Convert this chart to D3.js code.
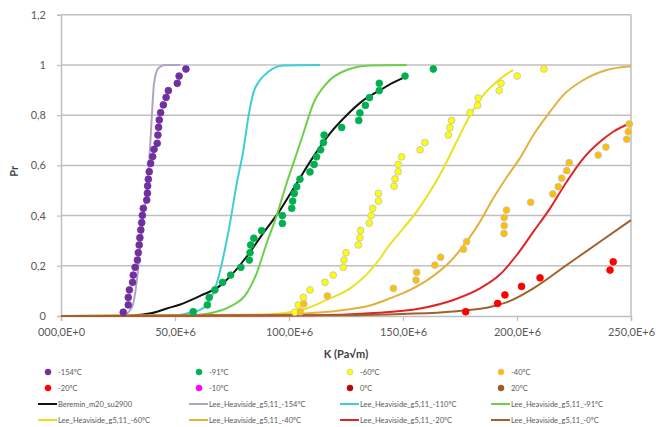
<!DOCTYPE html>
<html><head><meta charset="utf-8">
<script src="https://cdn.jsdelivr.net/npm/d3@7"></script>
<style>body{margin:0;background:#fff}svg{display:block}</style>
</head><body>
<script>
// ---- data (K in units of 1E+6 Pa√m, Pr) ----
const xTickValues = [0, 50, 100, 150, 200, 250];
const xTickLabels = ["000,0E+0", "50,0E+6", "100,0E+6", "150,0E+6", "200,0E+6", "250,0E+6"];
const yTickValues = [0, 0.2, 0.4, 0.6, 0.8, 1, 1.2];
const yTickLabels = ["0", "0,2", "0,4", "0,6", "0,8", "1", "1,2"];

const pts_m154 = [[27.3,0.015],[29.5,0.044],[29.5,0.074],[30.0,0.104],[31.4,0.134],[31.7,0.163],[32.5,0.194],[33.5,0.223],[33.9,0.252],[34.3,0.283],[34.6,0.312],[35.0,0.343],[35.4,0.372],[35.7,0.401],[36.1,0.429],[37.6,0.462],[37.9,0.489],[38.0,0.518],[38.3,0.545],[38.7,0.575],[39.3,0.608],[40.2,0.635],[40.8,0.664],[42.2,0.688],[42.5,0.721],[42.8,0.752],[43.1,0.781],[43.7,0.810],[44.9,0.841],[46.1,0.871],[47.1,0.898],[51.0,0.927],[51.8,0.956],[54.8,0.984]];
const pts_m91 = [[58.0,0.017],[64.2,0.044],[65.0,0.074],[67.5,0.104],[70.9,0.134],[74.4,0.163],[78.9,0.194],[82.6,0.223],[82.9,0.252],[83.2,0.283],[84.6,0.31],[88.0,0.34],[97.1,0.369],[97.1,0.40],[101.2,0.429],[101.6,0.458],[102.3,0.488],[103.4,0.515],[104.8,0.545],[109.2,0.574],[111.0,0.604],[112.1,0.634],[113.9,0.662],[115.1,0.691],[115.4,0.721],[123.1,0.751],[130.6,0.779],[131.1,0.809],[133.5,0.839],[135.3,0.87],[139.6,0.898],[139.6,0.927],[150.9,0.956],[163.3,0.984]];
const pts_m60 = [[102.6,0.015],[104.1,0.044],[106.3,0.074],[109.2,0.104],[115.8,0.134],[119.4,0.163],[123.8,0.194],[124.1,0.223],[125.0,0.252],[130.4,0.283],[131.1,0.312],[131.4,0.341],[135.2,0.37],[136.0,0.40],[136.7,0.429],[139.2,0.458],[139.2,0.488],[146.1,0.517],[146.5,0.546],[147.9,0.575],[147.9,0.604],[149.4,0.634],[157.5,0.662],[159.6,0.691],[169.9,0.721],[170.6,0.75],[171.3,0.779],[179.4,0.81],[182.7,0.839],[183.0,0.868],[192.2,0.898],[193.0,0.927],[200.1,0.956],[211.8,0.984]];
const pts_m40 = [[105.0,0.017],[106.5,0.048],[116.8,0.08],[145.8,0.11],[155.7,0.143],[156.0,0.174],[164.0,0.203],[166.5,0.234],[176.5,0.266],[177.9,0.296],[194.3,0.329],[194.4,0.36],[194.4,0.392],[195.4,0.422],[206.0,0.453],[215.7,0.486],[218.1,0.515],[219.6,0.549],[221.8,0.579],[222.9,0.611],[235.6,0.641],[239.0,0.673],[248.1,0.704],[248.8,0.734],[249.3,0.765]];
const pts_m20 = [[177.5,0.017],[191.5,0.05],[194.7,0.084],[202.0,0.118],[210.1,0.152],[240.8,0.183],[242.2,0.216]];
const pts_m10 = [];
const pts_0 = [];
const pts_20 = [];

const line_beremin = [[27,0],[35,0.005],[40,0.012],[46.4,0.03],[52,0.045],[61,0.08],[69.7,0.12],[74.1,0.157],[81.4,0.236],[88.7,0.33],[96.1,0.422],[103.4,0.529],[110.7,0.635],[118,0.728],[125.3,0.80],[132,0.855],[140,0.90],[145,0.927],[151,0.953]];
const line_lee_m154 = [[0,0],[26,0],[28,0.005],[30,0.02],[31.7,0.05],[32.8,0.11],[33.9,0.196],[35,0.3],[36.1,0.396],[37.6,0.5],[38.8,0.63],[39.8,0.79],[40.8,0.927],[42.7,0.987],[45.6,1],[52.2,1]];
const line_lee_m110 = [[0,0],[45,0],[52,0.004],[56,0.012],[61,0.024],[65.4,0.064],[68.3,0.13],[71.2,0.236],[74.1,0.369],[77.1,0.529],[80.0,0.661],[82.2,0.794],[84.3,0.887],[87.3,0.94],[90.9,0.973],[97.5,0.998],[113.6,1]];
const line_lee_m91 = [[0,0],[55,0],[60,0.004],[65.4,0.011],[74.1,0.037],[81.4,0.09],[85.8,0.17],[90.2,0.29],[94.6,0.40],[99.0,0.53],[101.9,0.608],[106.3,0.728],[110.7,0.847],[116.5,0.927],[125.3,0.98],[135.5,0.998],[151.6,1]];
const line_lee_m60 = [[0,0],[80,0.003],[97.5,0.011],[107.8,0.03],[116.5,0.064],[126.8,0.11],[134,0.165],[140,0.23],[143,0.27],[150.1,0.349],[156,0.416],[161.8,0.495],[167.7,0.588],[173.5,0.694],[179.4,0.80],[185.2,0.88],[191.1,0.933],[196.9,0.973],[198.4,0.98]];
const line_lee_m40 = [[0,0],[90,0.005],[110,0.012],[125,0.025],[135.5,0.042],[144.2,0.07],[153.1,0.104],[161.8,0.15],[170.6,0.216],[177.9,0.296],[183.8,0.376],[189.6,0.469],[196,0.56],[201,0.625],[207.2,0.721],[214.5,0.814],[220.3,0.88],[229.1,0.94],[239.3,0.98],[250,0.995]];
const line_lee_m20 = [[0,0],[110,0.003],[135.5,0.011],[157.5,0.03],[172.1,0.064],[183.8,0.11],[192.5,0.165],[199.9,0.243],[207.2,0.336],[214.5,0.429],[221.8,0.535],[229.1,0.628],[236.4,0.694],[242.2,0.734],[250,0.77]];
const line_lee_0 = [[0,0],[130,0.003],[150,0.008],[172.1,0.018],[190,0.04],[197,0.06],[207.2,0.11],[221.8,0.203],[236.4,0.296],[250,0.382]];

const pointSeries = [
  {name:"-154ºC", data:pts_m154, fill:"#7030A0", stroke:"#7030A0"},
  {name:"-91ºC", data:pts_m91, fill:"#00B050", stroke:"#00B050"},
  {name:"-60ºC", data:pts_m60, fill:"#FFFF00", stroke:"#BFBFBF"},
  {name:"-40ºC", data:pts_m40, fill:"#FFC000", stroke:"#BFBFBF"},
  {name:"-20ºC", data:pts_m20, fill:"#FF0000", stroke:"#FF0000"},
  {name:"-10ºC", data:pts_m10, fill:"#FF00FF", stroke:"#FF00FF"},
  {name:"0ºC", data:pts_0, fill:"#C00000", stroke:"#C00000"},
  {name:"20ºC", data:pts_20, fill:"#9C5A1E", stroke:"#9C5A1E"}
];
const lineSeries = [
  {name:"Beremin_m20_su2900", data:line_beremin, color:"#111111"},
  {name:"Lee_Heaviside_g5,11_-154ºC", data:line_lee_m154, color:"#B3A2C7"},
  {name:"Lee_Heaviside_g5,11_-110ºC", data:line_lee_m110, color:"#3ECFD6"},
  {name:"Lee_Heaviside_g5,11_-91ºC", data:line_lee_m91, color:"#6CCF48"},
  {name:"Lee_Heaviside_g5,11_-60ºC", data:line_lee_m60, color:"#E8E220"},
  {name:"Lee_Heaviside_g5,11_-40ºC", data:line_lee_m40, color:"#E2B23E"},
  {name:"Lee_Heaviside_g5,11_-20ºC", data:line_lee_m20, color:"#E02424"},
  {name:"Lee_Heaviside_g5,11_-0ºC", data:line_lee_0, color:"#A0612C"}
];

// ---- drawing ----
const W = 659, H = 427;
const L = 61, R = 631, T = 14.8, B = 316;
const svg = d3.select("body").append("svg").attr("width", W).attr("height", H);
const x = d3.scaleLinear().domain([0, 250]).range([L, R]);
const y = d3.scaleLinear().domain([0, 1.2]).range([B, T]);
const FONT = "Lato, 'Open Sans', sans-serif";
const TXT = "#595959";
const GRID = "#BFBFBF";

// gridlines
svg.append("g").selectAll("line").data(yTickValues.filter(v => v > 0)).join("line")
  .attr("x1", L).attr("x2", R).attr("y1", d => y(d)).attr("y2", d => y(d))
  .attr("stroke", GRID).attr("stroke-width", 1.5);
// right border
svg.append("line").attr("x1", R).attr("x2", R).attr("y1", T).attr("y2", B)
  .attr("stroke", GRID).attr("stroke-width", 1.5);

// axes
const xAxis = d3.axisBottom(x).tickValues(xTickValues).tickSize(5).tickPadding(7)
  .tickFormat((d, i) => xTickLabels[i]);
const gx = svg.append("g").attr("transform", `translate(0,${B})`).call(xAxis);
gx.select(".domain").attr("stroke", GRID).attr("stroke-width", 1.5);
gx.selectAll(".tick line").attr("stroke", GRID).attr("stroke-width", 1.2);
gx.selectAll("text").attr("fill", TXT).attr("font-family", FONT).attr("font-size", 11);

const yAxis = d3.axisLeft(y).tickValues(yTickValues).tickSize(4).tickPadding(11)
  .tickFormat((d, i) => yTickLabels[i]);
const gy = svg.append("g").attr("transform", `translate(${L},0)`).call(yAxis);
gy.select(".domain").attr("stroke", GRID).attr("stroke-width", 1.5);
gy.selectAll(".tick line").attr("stroke", GRID).attr("stroke-width", 1.2);
gy.selectAll("text").attr("fill", TXT).attr("font-family", FONT).attr("font-size", 11);

// axis titles
svg.append("text").attr("x", (L + R) / 2).attr("y", 358).attr("text-anchor", "middle")
  .attr("font-family", FONT).attr("font-weight", "bold").attr("font-size", 11).attr("fill", "#404040")
  .text("K (Pa√m)");
svg.append("text").attr("transform", `translate(18,${(T + B) / 2 + 6}) rotate(-90)`)
  .attr("text-anchor", "middle").attr("font-family", FONT).attr("font-weight", "bold")
  .attr("font-size", 11).attr("fill", "#404040").text("Pr");

// lines
const lineGen = d3.line().x(d => x(d[0])).y(d => y(d[1])).curve(d3.curveMonotoneX);
svg.append("g").selectAll("path").data(lineSeries).join("path")
  .attr("d", d => lineGen(d.data)).attr("fill", "none")
  .attr("stroke", d => d.color).attr("stroke-width", 2).attr("stroke-linejoin", "round");

// points
pointSeries.forEach(s => {
  svg.append("g").selectAll("circle").data(s.data).join("circle")
    .attr("cx", d => x(d[0])).attr("cy", d => y(d[1])).attr("r", 3.4)
    .attr("fill", s.fill).attr("stroke", s.stroke).attr("stroke-width", 0.8);
});

// legend
const colX = [48, 199, 350, 501];
const rowY = [372, 388, 404, 420];
const lg = svg.append("g").attr("font-family", FONT).attr("font-size", 7.5).attr("fill", TXT);
pointSeries.forEach((s, i) => {
  const cx = colX[i % 4], cy = rowY[Math.floor(i / 4)];
  lg.append("circle").attr("cx", cx).attr("cy", cy).attr("r", 3)
    .attr("fill", s.fill).attr("stroke", s.stroke).attr("stroke-width", 0.6);
  lg.append("text").attr("x", cx + 10).attr("y", cy + 2.6).text(s.name);
});
lineSeries.forEach((s, i) => {
  const cx = colX[i % 4], cy = rowY[2 + Math.floor(i / 4)];
  lg.append("line").attr("x1", cx - 10).attr("x2", cx + 9).attr("y1", cy).attr("y2", cy)
    .attr("stroke", s.color).attr("stroke-width", 2);
  lg.append("text").attr("x", cx + 10).attr("y", cy + 2.6).text(s.name);
});
</script>
</body></html>
